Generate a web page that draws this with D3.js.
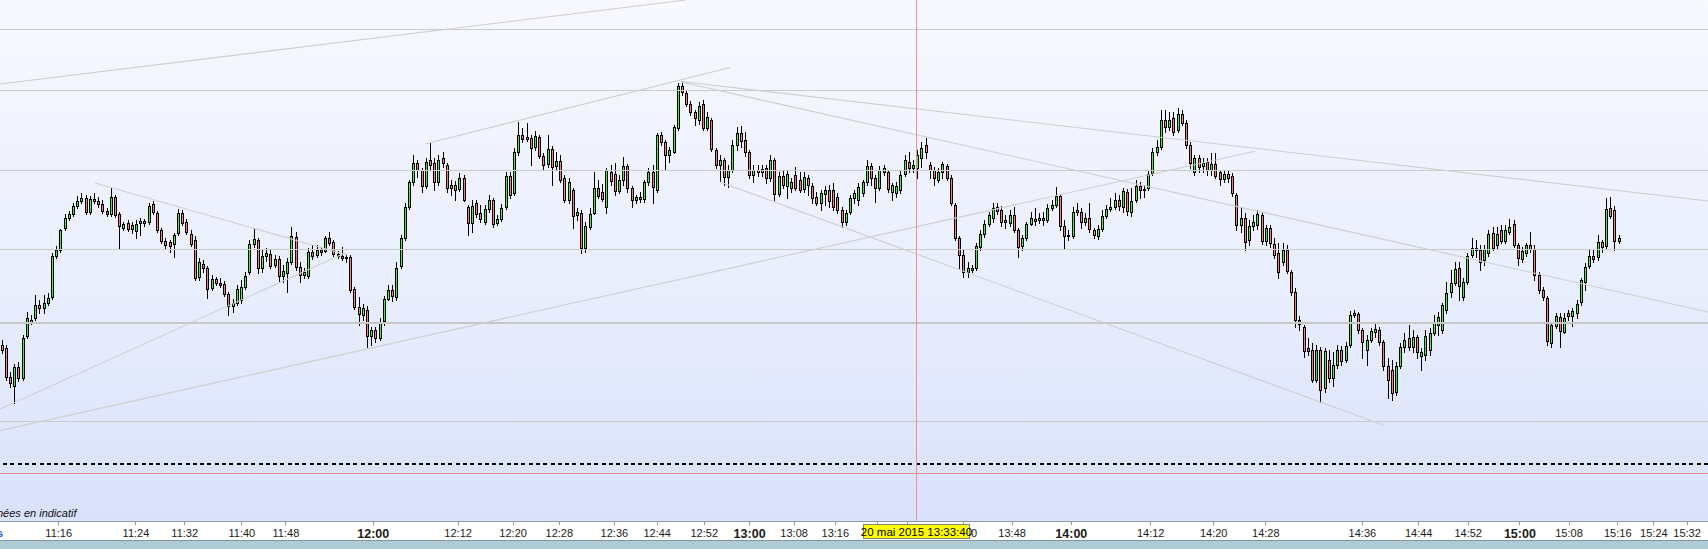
<!DOCTYPE html>
<html><head><meta charset="utf-8">
<script src="https://cdn.jsdelivr.net/npm/d3@7/dist/d3.min.js"></script>
<style>html,body{margin:0;padding:0;background:#fff;overflow:hidden}svg{display:block}</style>
</head><body>
<script>
// ---------- DATA (CAC-like index, 1 candle per slot) ----------
const opens = [5135.5,5135.2,5132.3,5131.4,5133.3,5132.2,5136.4,5138.0,5138.2,5139.5,
5139.2,5139.7,5140.3,5144.4,5145.0,5147.2,5148.2,5148.6,5149.4,5149.9,
5150.2,5148.8,5150.1,5149.9,5149.6,5148.9,5148.6,5150.3,5148.6,5147.2,
5147.7,5147.1,5146.9,5147.7,5147.9,5147.8,5149.6,5148.7,5147.0,5145.9,
5145.8,5145.6,5146.7,5148.7,5147.8,5146.6,5146.0,5142.3,5143.6,5143.2,
5141.2,5142.1,5141.7,5141.6,5140.6,5139.4,5139.7,5140.0,5141.3,5142.8,
5145.6,5146.0,5143.2,5144.4,5144.6,5143.5,5144.1,5142.4,5142.7,5143.8,
5146.3,5143.3,5142.5,5142.4,5144.8,5144.5,5145.0,5144.9,5146.2,5145.8,
5144.6,5144.4,5144.3,5144.3,5141.1,5139.3,5138.5,5139.0,5136.4,5137.0,
5136.2,5137.9,5140.1,5141.0,5140.3,5143.4,5146.2,5149.3,5151.8,5153.7,
5153.0,5151.4,5154.0,5153.7,5151.8,5154.2,5153.5,5151.2,5151.5,5151.1,
5152.2,5149.3,5147.7,5149.7,5148.7,5147.8,5149.1,5150.0,5147.7,5148.1,
5149.3,5152.4,5150.7,5154.8,5156.5,5156.1,5156.2,5155.3,5156.3,5154.4,
5153.6,5155.1,5153.4,5153.9,5152.2,5150.0,5151.0,5148.5,5148.7,5145.2,
5147.3,5148.7,5151.2,5150.8,5149.3,5152.8,5152.6,5150.9,5152.0,5153.4,
5151.2,5150.0,5150.3,5150.1,5151.8,5152.8,5151.0,5156.5,5155.8,5154.5,
5154.8,5157.2,5161.4,5160.7,5159.6,5158.8,5158.0,5159.6,5157.2,5158.0,
5155.0,5153.5,5154.0,5152.3,5153.0,5155.5,5156.7,5156.0,5154.8,5152.5,
5153.0,5152.8,5153.2,5152.2,5154.0,5150.6,5152.4,5151.4,5151.2,5152.5,
5152.0,5151.1,5152.2,5151.4,5150.3,5149.7,5150.6,5151.0,5151.0,5150.3,
5149.0,5147.8,5148.8,5150.2,5150.0,5150.7,5151.8,5153.4,5152.2,5151.2,
5152.8,5152.8,5150.8,5150.7,5151.0,5152.6,5153.8,5153.2,5153.2,5154.2,
5155.5,5153.5,5153.0,5152.0,5152.8,5153.4,5152.2,5149.5,5146.2,5144.5,
5142.8,5143.0,5143.2,5145.3,5146.6,5147.6,5148.2,5149.3,5149.0,5148.0,
5147.7,5148.5,5147.0,5145.4,5146.2,5147.6,5148.1,5148.0,5148.2,5148.0,
5149.2,5149.5,5150.4,5147.4,5146.5,5146.4,5149.0,5148.8,5147.8,5148.2,
5147.0,5146.4,5147.1,5148.4,5149.1,5149.3,5150.0,5149.3,5150.8,5148.8,
5150.0,5151.4,5151.0,5151.2,5152.7,5154.8,5155.3,5158.0,5157.3,5158.2,
5157.0,5158.6,5157.7,5155.5,5152.8,5154.2,5153.4,5153.8,5153.0,5153.6,
5152.8,5152.1,5152.6,5152.4,5150.5,5147.5,5148.2,5146.0,5147.4,5147.5,
5148.5,5145.9,5147.2,5145.6,5144.7,5143.8,5145.0,5142.8,5140.8,5138.0,
5137.3,5135.2,5135.0,5132.0,5135.0,5131.2,5134.0,5132.2,5133.5,5135.0,
5134.0,5135.5,5138.5,5138.6,5137.0,5135.0,5136.0,5136.8,5137.0,5135.8,
5133.4,5133.0,5130.8,5133.4,5135.3,5136.2,5135.3,5136.3,5134.4,5134.5,
5135.0,5136.7,5137.5,5137.0,5139.0,5140.8,5141.7,5143.2,5140.3,5141.8,
5144.5,5145.2,5145.0,5144.0,5144.7,5146.7,5145.5,5147.0,5145.9,5146.8,
5147.6,5145.5,5144.1,5144.7,5145.5,5145.1,5142.5,5141.0,5140.2,5135.7,
5137.4,5138.3,5136.8,5138.7,5138.4,5138.7,5139.8,5141.8,5143.4,5144.4,
5144.3,5145.8,5145.4,5149.2,5149.0,5145.9];
const closes = [5135.0,5132.3,5131.7,5133.3,5132.2,5136.2,5138.2,5137.8,5139.5,5139.2,
5139.7,5140.2,5144.4,5145.0,5147.0,5148.2,5148.6,5149.4,5149.9,5150.2,
5148.8,5150.1,5149.9,5149.6,5148.9,5148.6,5150.3,5148.5,5147.4,5147.6,
5147.1,5147.5,5147.6,5147.9,5147.7,5149.4,5148.8,5147.0,5145.9,5145.5,
5145.4,5146.5,5148.7,5147.7,5146.8,5145.6,5142.2,5143.8,5143.2,5141.1,
5142.1,5141.7,5141.5,5140.6,5139.4,5139.7,5141.1,5141.3,5142.4,5145.6,
5146.1,5143.2,5144.4,5144.7,5143.4,5144.1,5142.4,5142.9,5143.8,5146.4,
5143.3,5142.5,5142.8,5144.8,5144.4,5145.0,5144.8,5146.2,5145.7,5144.6,
5144.4,5144.2,5144.2,5141.0,5139.3,5138.6,5139.2,5136.4,5137.0,5136.2,
5137.8,5140.1,5141.0,5140.4,5143.2,5146.2,5149.3,5151.8,5153.7,5153.0,
5151.4,5153.8,5153.5,5151.8,5154.0,5153.7,5151.2,5151.5,5151.0,5152.2,
5150.0,5147.7,5149.4,5148.6,5148.1,5149.1,5150.0,5147.6,5148.1,5149.2,
5152.4,5150.5,5154.8,5156.5,5156.1,5156.3,5155.2,5156.4,5154.4,5153.5,
5155.1,5153.3,5153.9,5152.0,5150.0,5151.8,5148.4,5148.8,5145.2,5147.4,
5148.6,5151.2,5150.4,5150.1,5153.0,5151.9,5150.9,5152.0,5153.4,5151.2,
5150.0,5150.3,5150.1,5151.8,5152.8,5151.3,5156.5,5155.8,5154.5,5155.0,
5157.3,5161.4,5160.8,5159.6,5158.8,5158.2,5159.4,5157.2,5158.3,5155.1,
5153.5,5154.0,5152.3,5153.0,5155.5,5156.7,5155.9,5154.8,5152.5,5153.0,
5152.8,5153.1,5152.2,5154.0,5150.6,5152.4,5151.5,5152.6,5151.8,5151.2,
5151.0,5152.3,5151.5,5150.2,5149.7,5150.7,5151.0,5149.9,5149.3,5149.0,
5147.8,5148.7,5150.2,5150.7,5151.3,5151.8,5153.4,5152.2,5151.2,5153.0,
5153.2,5151.1,5151.5,5151.4,5152.5,5154.0,5153.2,5153.5,5154.5,5155.2,
5154.8,5153.0,5152.2,5152.8,5153.6,5152.2,5149.7,5146.2,5144.5,5142.8,
5143.2,5143.2,5145.4,5146.6,5147.6,5148.5,5149.2,5148.9,5147.8,5147.8,
5148.5,5147.0,5145.3,5146.2,5147.6,5148.2,5147.9,5148.2,5148.0,5149.2,
5149.5,5150.4,5147.4,5146.4,5146.4,5148.8,5148.8,5147.8,5148.2,5147.1,
5146.5,5147.1,5148.4,5149.1,5149.3,5150.0,5149.4,5150.9,5148.9,5149.9,
5151.4,5151.0,5151.1,5152.6,5154.8,5155.3,5158.0,5157.3,5158.0,5156.8,
5158.6,5157.7,5155.5,5153.7,5154.2,5153.3,5153.7,5153.0,5153.6,5152.4,
5152.1,5152.6,5152.2,5150.7,5147.5,5148.2,5145.8,5147.4,5147.8,5148.6,
5145.9,5147.2,5145.7,5144.5,5142.8,5145.0,5142.9,5140.8,5138.0,5137.6,
5134.9,5134.9,5132.0,5135.0,5131.0,5134.9,5132.2,5133.5,5135.0,5133.9,
5135.4,5138.5,5138.7,5137.0,5135.8,5136.0,5136.9,5137.1,5135.8,5133.4,
5132.0,5130.7,5133.4,5135.3,5136.0,5135.3,5136.3,5134.8,5134.8,5136.4,
5136.7,5137.8,5138.3,5139.5,5140.7,5141.7,5143.1,5141.4,5141.8,5144.4,
5145.2,5145.0,5143.8,5145.1,5146.6,5145.2,5146.6,5145.9,5147.0,5147.3,
5145.5,5144.2,5144.9,5145.5,5145.1,5142.5,5141.0,5140.3,5135.9,5137.5,
5138.4,5136.9,5138.2,5138.4,5138.9,5139.6,5142.0,5143.3,5144.4,5144.1,
5145.8,5145.3,5149.1,5148.4,5145.9,5146.2];
const highs = [5136.0,5135.5,5132.8,5133.6,5133.8,5136.5,5138.8,5138.5,5140.5,5140.0,
5140.5,5140.7,5144.7,5145.4,5147.1,5148.6,5148.9,5149.7,5150.4,5150.7,
5150.5,5150.4,5150.7,5150.3,5150.0,5149.2,5151.2,5150.5,5148.8,5147.8,
5148.0,5147.8,5148.0,5148.2,5148.1,5149.7,5149.9,5148.9,5147.2,5146.2,
5146.0,5146.7,5149.1,5149.0,5148.1,5147.0,5146.4,5144.2,5144.0,5143.4,
5142.5,5142.3,5142.2,5141.9,5140.8,5140.1,5141.5,5142.0,5142.8,5146.0,
5147.2,5146.2,5145.1,5145.2,5145.0,5144.5,5144.4,5143.5,5144.2,5147.3,
5146.8,5143.8,5143.2,5145.2,5145.5,5145.5,5145.3,5146.4,5146.8,5146.0,
5144.9,5145.3,5144.6,5144.5,5141.3,5140.3,5139.6,5139.4,5137.3,5137.3,
5138.2,5140.4,5141.5,5141.5,5143.8,5146.5,5149.7,5152.0,5154.5,5154.0,
5153.2,5154.2,5155.7,5154.2,5154.5,5154.8,5153.7,5152.0,5151.9,5152.7,
5152.5,5149.5,5150.0,5150.0,5149.5,5149.5,5150.5,5150.2,5148.5,5149.6,
5152.8,5152.8,5155.2,5157.8,5157.2,5157.7,5156.5,5156.9,5156.5,5154.7,
5156.5,5155.4,5154.8,5154.5,5152.5,5152.2,5151.2,5149.2,5149.0,5147.8,
5149.2,5152.8,5152.0,5151.6,5153.2,5153.5,5153.7,5152.5,5154.3,5153.6,
5151.4,5150.5,5150.8,5152.0,5153.2,5153.5,5156.7,5156.8,5156.0,5155.3,
5157.5,5161.7,5161.9,5161.0,5159.9,5159.0,5159.8,5160.0,5158.8,5158.2,
5155.2,5154.5,5154.2,5153.5,5156.0,5157.3,5157.4,5156.8,5155.0,5153.5,
5153.5,5153.5,5153.5,5154.5,5154.2,5152.8,5153.0,5153.0,5152.2,5153.3,
5152.8,5152.8,5152.5,5151.7,5150.8,5151.0,5151.4,5151.5,5151.7,5150.7,
5149.3,5149.0,5150.5,5151.0,5151.7,5152.0,5154.0,5153.7,5152.5,5153.4,
5153.5,5153.0,5151.7,5151.8,5152.9,5154.5,5154.8,5154.0,5155.0,5155.8,
5156.2,5153.8,5153.3,5153.2,5153.8,5153.6,5152.5,5149.7,5146.4,5145.0,
5143.8,5143.5,5145.7,5147.0,5148.0,5148.8,5149.7,5149.7,5149.4,5148.5,
5149.0,5149.3,5147.2,5146.5,5147.8,5148.8,5149.2,5148.7,5148.8,5149.6,
5150.0,5151.3,5150.6,5148.0,5147.0,5149.3,5149.7,5149.2,5148.7,5149.7,
5147.2,5147.5,5149.0,5149.5,5150.2,5150.7,5150.5,5151.2,5151.1,5151.2,
5152.0,5151.8,5151.5,5153.0,5155.2,5156.0,5159.0,5159.0,5158.8,5158.8,
5159.2,5159.0,5158.0,5155.8,5154.5,5154.5,5154.2,5154.2,5154.7,5154.7,
5153.0,5152.9,5152.9,5152.7,5150.7,5149.2,5148.7,5148.0,5148.5,5149.0,
5148.8,5147.5,5147.5,5146.2,5145.7,5145.7,5145.5,5143.0,5141.2,5138.4,
5137.5,5136.2,5135.7,5135.5,5135.3,5135.2,5135.0,5134.8,5135.5,5135.4,
5135.8,5138.9,5139.0,5138.8,5137.2,5136.5,5137.2,5137.7,5137.3,5136.0,
5134.2,5134.0,5133.8,5135.7,5136.7,5137.5,5137.0,5136.5,5135.2,5137.0,
5137.2,5138.5,5138.8,5139.7,5141.8,5143.0,5143.8,5143.8,5142.2,5144.7,
5146.2,5146.0,5145.5,5145.5,5147.0,5147.3,5147.3,5147.5,5147.5,5148.1,
5148.0,5145.7,5145.3,5145.7,5146.8,5145.5,5142.8,5141.3,5140.4,5137.8,
5138.7,5138.7,5138.7,5139.0,5139.2,5140.0,5142.2,5143.7,5145.0,5145.0,
5146.5,5146.0,5150.2,5150.3,5149.4,5146.5];
const lows = [5134.7,5132.0,5131.3,5129.7,5131.9,5132.0,5136.2,5137.6,5138.0,5138.7,
5138.7,5139.5,5140.1,5144.2,5144.8,5147.0,5148.0,5148.4,5149.2,5149.7,
5148.6,5148.6,5149.7,5149.3,5148.7,5148.4,5148.4,5148.3,5145.2,5147.0,
5146.9,5146.7,5146.2,5146.5,5147.4,5147.6,5148.6,5146.8,5145.7,5145.1,
5144.8,5144.3,5146.5,5147.5,5146.6,5145.4,5142.0,5142.0,5142.8,5140.2,
5141.0,5141.5,5141.3,5140.4,5138.5,5138.8,5139.5,5139.7,5141.1,5142.6,
5145.3,5142.7,5142.8,5143.9,5143.2,5143.3,5141.9,5141.8,5140.8,5143.6,
5143.0,5141.8,5142.2,5142.2,5144.1,5144.3,5144.5,5144.8,5145.5,5144.4,
5144.2,5144.0,5143.8,5140.8,5139.1,5137.5,5138.0,5135.3,5135.5,5135.8,
5136.0,5137.5,5140.0,5139.9,5140.0,5143.2,5146.0,5149.1,5151.5,5152.3,
5150.8,5151.2,5153.0,5151.0,5151.5,5153.3,5150.8,5150.5,5150.0,5150.9,
5149.9,5146.5,5146.8,5148.3,5147.8,5147.6,5148.8,5147.3,5147.5,5147.9,
5149.1,5150.2,5150.5,5154.5,5155.8,5155.9,5153.5,5155.0,5154.2,5153.0,
5153.3,5151.5,5153.0,5151.8,5149.8,5149.7,5147.2,5148.0,5144.7,5144.8,
5147.1,5148.6,5150.2,5149.9,5148.7,5151.5,5150.5,5150.7,5151.5,5150.8,
5149.3,5149.7,5149.8,5149.8,5151.5,5149.7,5150.8,5155.5,5153.0,5153.8,
5154.7,5157.0,5160.5,5159.4,5158.5,5157.5,5157.6,5157.0,5157.0,5154.9,
5153.2,5151.9,5151.5,5151.3,5152.8,5155.0,5155.3,5154.4,5152.2,5151.8,
5152.4,5152.4,5151.7,5151.9,5150.0,5150.4,5151.2,5150.2,5150.8,5151.0,
5150.8,5150.8,5150.5,5149.7,5149.5,5149.0,5149.5,5149.3,5149.0,5148.7,
5147.3,5147.5,5148.6,5149.7,5149.5,5150.4,5151.5,5151.5,5149.8,5151.0,
5152.5,5150.8,5150.0,5150.3,5150.7,5152.4,5152.8,5152.8,5152.2,5153.3,
5154.2,5152.2,5151.5,5151.8,5152.2,5152.0,5149.5,5146.0,5143.2,5142.3,
5142.3,5142.8,5143.0,5145.0,5146.3,5147.4,5147.8,5148.6,5147.4,5147.2,
5147.4,5146.8,5144.3,5145.0,5146.0,5147.5,5147.5,5147.7,5147.5,5147.8,
5149.0,5149.3,5147.0,5145.2,5146.0,5146.2,5148.5,5147.2,5147.5,5146.8,
5146.2,5146.1,5146.9,5148.2,5148.9,5149.1,5149.0,5148.8,5148.5,5148.4,
5149.8,5150.2,5150.3,5151.0,5152.5,5154.5,5155.1,5156.8,5157.0,5156.5,
5156.8,5157.5,5155.2,5153.2,5152.5,5152.8,5152.8,5152.5,5152.5,5152.2,
5151.5,5151.8,5151.8,5150.4,5147.0,5146.8,5145.0,5145.5,5147.0,5147.1,
5145.6,5145.5,5145.3,5144.2,5142.2,5143.5,5142.7,5140.5,5137.3,5137.0,
5134.3,5134.5,5131.8,5131.8,5129.8,5130.8,5131.8,5131.4,5133.2,5133.5,
5133.8,5135.3,5138.3,5136.7,5134.2,5133.5,5135.8,5136.3,5135.5,5133.0,
5130.2,5130.0,5130.5,5133.2,5134.8,5135.0,5134.8,5134.2,5133.0,5134.0,
5134.5,5136.5,5136.5,5136.7,5138.7,5140.3,5141.5,5140.0,5140.0,5141.6,
5144.3,5144.3,5143.0,5143.5,5144.4,5145.0,5145.2,5145.7,5145.7,5146.6,
5145.3,5143.5,5143.8,5144.4,5144.8,5142.0,5140.7,5140.0,5135.5,5135.3,
5137.2,5135.3,5136.7,5138.0,5137.4,5138.2,5139.5,5141.0,5143.2,5143.8,
5144.0,5144.8,5145.2,5148.2,5145.0,5145.7];

// time axis: label and the (fractional) candle slot where it falls
// (the two labels under the cursor box are hidden in the reference, only their ticks show)
const tickLabels = ["11:16","11:24","11:32","11:40","11:48","12:00","12:12","12:20","12:28","12:36",
"12:44","12:52","13:00","13:08","13:16","","","13:40","13:48","14:00",
"14:12","14:20","14:28","14:36","14:44","14:52","15:00","15:08","15:16","15:24","15:32"];
const tickIndex = [13.5,31.9,43.5,57.1,67.6,88.4,108.6,121.7,132.7,145.8,
156.0,167.2,178.0,188.6,198.4,208.5,215.5,228.9,240.5,254.6,
273.5,288.5,300.9,323.9,337.3,349.1,361.4,373.1,384.7,393.3,401.2];
const totalSlots = 406;

// horizontal price levels drawn on the chart
const levels = [5167.06, 5160.97, 5152.97, 5145.07, 5137.72, 5127.95];
const strongLevel = 5137.72;
const dashedLevel = 5123.6;
const redLevel = 5122.7;

// trend lines: [startSlot, startPrice, endSlot, endPrice]
const trendLines = [
  [-0.36, 5161.6, 163.0, 5170.0],
  [100.8, 5155.6, 173.5, 5163.25],
  [161.8, 5161.85, 406.3, 5149.9],
  [161.8, 5161.8, 406.3, 5138.8],
  [-0.36, 5129.1, 81.8, 5144.7],
  [-0.36, 5126.94, 298.5, 5154.87],
  [22.3, 5151.7, 82.3, 5144.5],
  [171.1, 5151.8, 328.9, 5127.5]
];

const cursorSlot = 217.8;
const cursorLabel = "20 mai 2015 13:33:40";
const footnote = "Données en indicatif";
const leftStub = "s";

// ---------- DRAWING ----------
const W = 1708, H = 549, plotBottom = 521, axisBottom = 540;
const x = d3.scaleLinear().domain([0, totalSlots]).range([1.5, 1.5 + totalSlots * 4.2]);
const y = d3.scaleLinear().domain([5170, 5115.1]).range([0, 549]);

const svg = d3.select("body").append("svg").attr("width", W).attr("height", H);
const defs = svg.append("defs");
const g = defs.append("linearGradient").attr("id", "bg").attr("x1", 0).attr("y1", 0).attr("x2", 0).attr("y2", 1);
g.append("stop").attr("offset", "0%").attr("stop-color", "#f8f9ff");
g.append("stop").attr("offset", "55%").attr("stop-color", "#e9eefd");
g.append("stop").attr("offset", "100%").attr("stop-color", "#d9e2fb");

svg.append("rect").attr("x", 0).attr("y", 0).attr("width", W).attr("height", plotBottom).attr("fill", "url(#bg)");

// candles
const data = opens.map((o, i) => ({i, o, c: closes[i], h: highs[i], l: lows[i]}));
const cg = svg.append("g").attr("shape-rendering", "crispEdges");
cg.selectAll("line.wick").data(data).join("line")
  .attr("class", "wick")
  .attr("x1", d => Math.round(x(d.i)) + 0.5).attr("x2", d => Math.round(x(d.i)) + 0.5)
  .attr("y1", d => Math.round(y(d.h))).attr("y2", d => Math.round(y(d.l)) + 1)
  .attr("stroke", "#000").attr("stroke-width", 1);
cg.selectAll("rect.body").data(data).join("rect")
  .attr("class", "body")
  .attr("x", d => Math.round(x(d.i)) - 0.5)
  .attr("width", 2)
  .attr("y", d => Math.round(Math.min(y(d.o), y(d.c))) + 0.5)
  .attr("height", d => Math.max(1, Math.round(Math.abs(y(d.o) - y(d.c)))))
  .attr("fill", d => d.c >= d.o ? "#44ee44" : "#f47f7f")
  .attr("stroke", "#000").attr("stroke-width", 1);

// level lines
svg.append("g").selectAll("line").data(levels).join("line")
  .attr("x1", 0).attr("x2", W)
  .attr("y1", d => d === strongLevel ? Math.round(y(d)) : Math.round(y(d)) + 0.5)
  .attr("y2", d => d === strongLevel ? Math.round(y(d)) : Math.round(y(d)) + 0.5)
  .attr("stroke", d => d === strongLevel ? "#c6c6c6" : "#cbcbcb")
  .attr("stroke-width", d => d === strongLevel ? 2 : 1)
  .attr("shape-rendering", "crispEdges");

// trend lines
svg.append("g").selectAll("line").data(trendLines).join("line")
  .attr("x1", d => x(d[0])).attr("y1", d => y(d[1]))
  .attr("x2", d => x(d[2])).attr("y2", d => y(d[3]))
  .attr("stroke", "#cfcfcf").attr("stroke-width", 1.1);

// dashed and red levels
svg.append("line").attr("x1", 3).attr("x2", W)
  .attr("y1", Math.round(y(dashedLevel))).attr("y2", Math.round(y(dashedLevel)))
  .attr("stroke", "#000").attr("stroke-width", 2).attr("stroke-dasharray", "4,3.3")
  .attr("shape-rendering", "crispEdges");
svg.append("line").attr("x1", 0).attr("x2", W)
  .attr("y1", Math.round(y(redLevel)) + 0.5).attr("y2", Math.round(y(redLevel)) + 0.5)
  .attr("stroke", "#e98d8d").attr("stroke-width", 1).attr("shape-rendering", "crispEdges");

// cursor line
const cx = Math.round(x(cursorSlot)) + 0.5;
svg.append("line").attr("x1", cx).attr("x2", cx).attr("y1", 0).attr("y2", plotBottom)
  .attr("stroke", "#ef8f8f").attr("stroke-width", 1).attr("shape-rendering", "crispEdges");

// footnote (starts left of the visible area, as in the reference)
svg.append("text").attr("x", 76.5).attr("y", 517).attr("text-anchor", "end")
  .attr("font-family", "'Liberation Sans', Arial, sans-serif").attr("font-size", 11)
  .attr("font-style", "italic").attr("fill", "#111").text(footnote);

// axis strip
svg.append("rect").attr("x", 0).attr("y", plotBottom).attr("width", W).attr("height", axisBottom - plotBottom).attr("fill", "#ffffff");
svg.append("rect").attr("x", 0).attr("y", axisBottom).attr("width", W).attr("height", H - axisBottom).attr("fill", "#aecbd6");
svg.append("line").attr("x1", 0).attr("x2", W).attr("y1", axisBottom + 0.5).attr("y2", axisBottom + 0.5)
  .attr("stroke", "#7f96a3").attr("shape-rendering", "crispEdges");

const axis = d3.axisBottom(x).tickValues(tickIndex).tickFormat((d, i) => tickLabels[i])
  .tickSize(4).tickPadding(4);
const ax = svg.append("g").attr("transform", `translate(0,${plotBottom})`).call(axis);
ax.select(".domain").remove();
ax.selectAll(".tick line").attr("stroke", "#8e9aa5").attr("shape-rendering", "crispEdges");
ax.selectAll(".tick text")
  .attr("font-family", "'Liberation Sans', Arial, sans-serif")
  .attr("fill", "#1a1a1a")
  .attr("font-size", (d, i) => tickLabels[i].endsWith(":00") ? 12.5 : 11)
  .attr("font-weight", (d, i) => tickLabels[i].endsWith(":00") ? "bold" : "normal");
svg.append("line").attr("x1", 0).attr("x2", W).attr("y1", plotBottom + 0.5).attr("y2", plotBottom + 0.5)
  .attr("stroke", "#8e9aa5").attr("shape-rendering", "crispEdges");

// small blue stub at the far left of the time axis
svg.append("text").attr("x", 3).attr("y", 536.5).attr("text-anchor", "end")
  .attr("font-family", "'Liberation Sans', Arial, sans-serif").attr("font-size", 11)
  .attr("font-weight", "bold").attr("fill", "#1f5fd0").text(leftStub);

// cursor label box
const box = svg.append("g");
box.append("rect").attr("x", cx - 53).attr("y", 524.5).attr("width", 106).attr("height", 14)
  .attr("fill", "#ffff00").attr("stroke", "#808080").attr("shape-rendering", "crispEdges");
box.append("text").attr("x", cx).attr("y", 535.5).attr("text-anchor", "middle")
  .attr("font-family", "'Liberation Sans', Arial, sans-serif").attr("font-size", 11.5)
  .attr("fill", "#000").text(cursorLabel);
</script>
</body></html>
